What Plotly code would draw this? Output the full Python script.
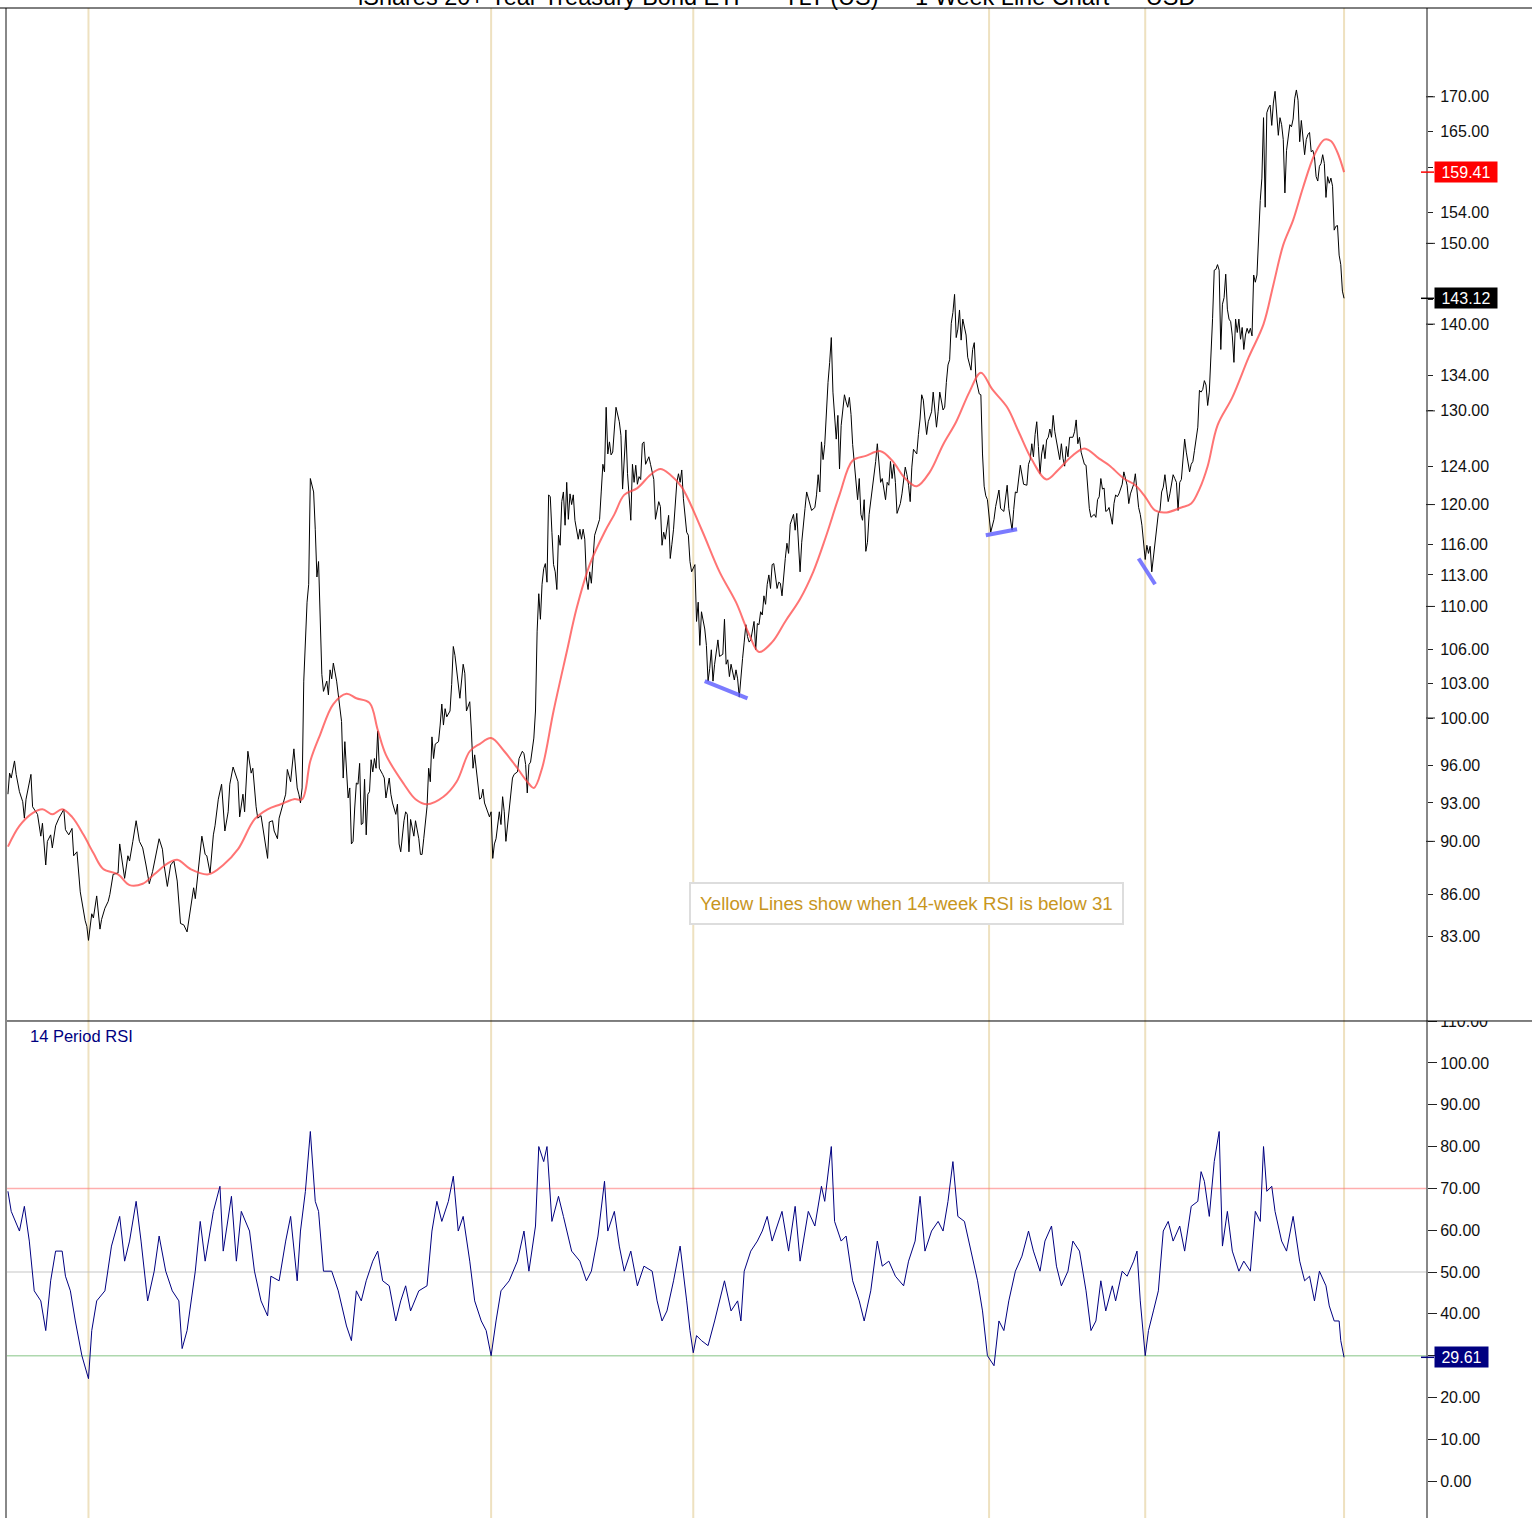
import math
import pandas as pd
import plotly.graph_objects as go

# weekly closes (week number counted from START)
START = pd.Timestamp('2005-07-22')

price_weeks = [
    0, 1, 2, 4, 5, 7, 9, 10, 11, 14, 15, 18, 20, 21, 23, 24, 26, 27, 29, 31,
    34, 35, 37, 39, 40, 42, 44, 46, 47, 48, 49, 51, 52, 54, 56, 57, 59, 61, 62, 64,
    67, 68, 71, 73, 74, 76, 78, 80, 82, 84, 86, 88, 90, 92, 94, 95, 97, 99, 101, 103,
    105, 107, 109, 111, 113, 114, 116, 118, 120, 121, 123, 125, 126, 128, 130, 132, 134, 135, 137, 140,
    141, 143, 144, 146, 148, 149, 151, 152, 154, 156, 158, 159, 161, 162, 164, 165, 167, 169, 170, 172,
    174, 175, 176, 177, 178, 179, 180, 182, 183, 184, 186, 187, 188, 189, 190, 191, 192, 194, 195, 196,
    197, 198, 200, 201, 203, 204, 205, 207, 208, 209, 210, 211, 212, 213, 214, 215, 216, 217, 218, 219,
    220, 221, 222, 223, 224, 225, 226, 228, 229, 230, 232, 233, 234, 236, 237, 238, 239, 241, 242, 243,
    244, 245, 247, 248, 250, 251, 252, 253, 255, 256, 257, 258, 259, 260, 262, 263, 264, 265, 266, 267,
    269, 270, 271, 272, 274, 275, 277, 278, 279, 281, 282, 283, 284, 285, 287, 288, 289, 290, 292, 293,
    294, 295, 296, 297, 299, 300, 301, 302, 303, 305, 307, 308, 310, 311, 313, 314, 315, 316, 317, 318,
    320, 321, 322, 323, 324, 325, 326, 327, 328, 329, 330, 331, 332, 333, 334, 335, 336, 337, 338, 339,
    340, 341, 342, 343, 344, 345, 346, 347, 348, 349, 350, 351, 352, 353, 354, 355, 357, 358, 360, 361,
    362, 363, 364, 365, 366, 367, 368, 369, 370, 372, 373, 374, 375, 376, 377, 379, 380, 381, 382, 383,
    384, 385, 386, 387, 388, 390, 391, 393, 394, 396, 397, 398, 399, 400, 402, 403, 404, 405, 407, 408,
    409, 410, 411, 413, 414, 415, 416, 418, 419, 420, 421, 422, 424, 425, 426, 427, 428, 429, 430, 432,
    433, 435, 436, 437, 438, 439, 440, 442, 443, 444, 445, 446, 447, 448, 449, 450, 451, 452, 454, 455,
    456, 457, 458, 459, 460, 461, 462, 463, 464, 465, 466, 468, 469, 470, 471, 473, 474, 475, 476, 478,
    479, 480, 482, 483, 484, 485, 486, 488, 489, 491, 492, 493, 494, 495, 496, 497, 498, 499, 500, 501,
    502, 503, 504, 505, 506, 507, 509, 510, 511, 512, 513, 514, 515, 516, 517, 518, 519, 520, 521, 522,
    523, 524, 526, 527, 528, 529, 530, 531, 532, 534, 535, 536, 537, 538, 539, 540, 541, 543, 544, 546,
    547, 548, 549, 550, 551, 553, 554, 555, 556, 557, 558, 559, 560, 561, 562, 563, 564, 565, 566, 567,
    569, 570, 571, 572, 573, 574, 575, 576, 577, 578, 579, 580, 581, 582, 583, 584, 585, 586, 587, 588,
    589, 591, 592, 593, 594, 595, 596, 597, 598, 600, 601, 603, 604, 606, 607, 608, 609, 611, 612, 613,
    614, 616, 618, 620, 621, 622, 623, 624, 625, 626, 627, 628, 629, 630, 631, 632, 633, 634, 635, 636,
    637, 638, 639, 640, 641, 642, 643, 644, 645, 646, 648, 649, 650, 651, 652, 653, 655, 656, 658, 659,
    661, 662, 663, 664, 665, 666, 667, 668, 669, 670, 672, 673, 674, 675, 676, 678, 679, 681, 682, 683,
    684, 685, 686, 687, 688, 689, 690, 692, 693, 694, 695, 696, 697, 698, 700, 701, 702, 703, 704, 705,
    706, 707, 708, 709, 710, 711, 712, 713, 714, 715, 716, 717, 718, 719, 720, 721, 722, 723, 724, 725,
    726, 727, 728, 729, 730, 731, 732, 733, 734, 735, 736, 737, 738, 739, 740, 741, 742, 743, 744, 745,
    746, 747, 748, 749, 750, 751, 752, 753, 754, 755, 756, 757, 758, 759, 760, 761, 762, 763, 764, 765,
    766, 767, 768, 769, 770, 771, 772, 773, 774, 775, 776, 777, 778, 779, 780, 781, 782, 783, 784, 785,
    786, 787, 788, 789, 790, 791, 792, 793, 794, 795, 796, 797, 798, 799, 800, 801, 802, 803, 804, 805,
    806, 807, 808, 809, 810, 811, 812, 813,
]
price_close = [
    93.7, 95.4, 95.0, 96.4, 95.3, 93.9, 93.1, 91.8, 93.3, 95.3, 92.7, 92.1, 90.4, 91.4, 88.2, 90.0, 90.5, 89.5, 91.2, 91.8,
    92.5, 90.9, 90.5, 91.0, 88.9, 89.2, 86.2, 84.6, 84.1, 83.7, 82.7, 84.6, 84.3, 85.9, 83.5, 84.2, 85.0, 85.5, 86.0, 87.5,
    87.6, 89.8, 87.2, 88.9, 88.5, 90.0, 91.6, 90.0, 89.5, 88.2, 86.8, 87.7, 88.9, 90.2, 89.4, 88.2, 86.6, 88.2, 88.5, 87.0,
    83.9, 83.8, 83.3, 84.9, 86.5, 85.7, 87.9, 90.4, 89.0, 88.9, 87.6, 90.5, 91.2, 93.3, 94.5, 90.8, 92.3, 94.5, 95.9, 94.7,
    91.9, 93.7, 92.3, 97.2, 95.4, 95.8, 92.7, 91.8, 92.0, 90.2, 88.7, 91.5, 91.6, 90.8, 90.2, 91.8, 92.7, 93.7, 95.7, 94.7,
    97.4, 95.8, 94.2, 93.7, 93.0, 94.2, 103.2, 110.4, 112.1, 122.7, 121.3, 117.5, 112.8, 114.3, 108.6, 103.8, 102.3, 103.2, 102.0, 104.2,
    103.4, 104.8, 103.2, 102.0, 99.7, 95.0, 98.0, 93.4, 94.2, 89.8, 90.0, 92.6, 94.6, 94.5, 96.2, 91.3, 91.4, 94.9, 90.5, 93.7,
    93.9, 96.5, 95.5, 96.6, 95.8, 98.9, 95.8, 95.3, 95.0, 93.4, 95.0, 93.7, 93.0, 92.1, 92.9, 89.8, 89.2, 91.6, 92.3, 92.1,
    89.2, 91.7, 90.4, 91.6, 90.2, 89.0, 89.0, 90.2, 92.7, 95.8, 94.7, 98.4, 96.6, 97.8, 98.0, 99.4, 101.2, 99.4, 100.8, 100.1,
    100.6, 102.9, 106.3, 105.5, 102.9, 101.7, 104.7, 103.9, 100.6, 101.4, 98.9, 95.8, 96.9, 95.5, 93.3, 93.4, 94.1, 93.0, 92.3, 91.9,
    92.3, 88.7, 89.8, 90.2, 92.3, 91.3, 93.5, 92.3, 90.0, 92.7, 95.0, 95.3, 95.5, 96.6, 97.2, 97.0, 96.1, 93.8, 96.1, 96.3,
    98.3, 100.6, 107.7, 111.2, 108.8, 112.1, 113.6, 114.1, 112.3, 121.0, 120.8, 117.2, 114.0, 113.3, 111.6, 116.9, 115.9, 120.3, 121.3, 117.9,
    122.3, 118.5, 121.1, 120.0, 121.0, 118.4, 117.2, 116.5, 117.5, 116.5, 117.5, 116.5, 112.6, 111.6, 113.3, 112.2, 116.9, 117.4, 118.5, 121.3,
    124.2, 123.4, 130.4, 125.3, 126.6, 125.2, 125.5, 128.0, 130.4, 128.8, 127.3, 121.6, 124.8, 127.9, 123.2, 118.4, 124.2, 122.3, 124.1, 122.1,
    122.9, 122.6, 126.4, 126.6, 124.2, 125.0, 124.2, 122.6, 118.5, 120.3, 119.8, 115.9, 117.2, 116.5, 118.9, 114.6, 116.0, 117.5, 122.3, 123.2,
    122.3, 123.6, 120.6, 117.2, 116.9, 114.3, 113.3, 114.0, 108.6, 110.4, 106.4, 109.5, 107.9, 106.4, 103.2, 104.3, 106.0, 103.2, 104.7, 106.9,
    105.4, 105.6, 108.8, 104.7, 105.1, 103.6, 104.7, 103.3, 104.2, 103.4, 101.8, 103.8, 105.2, 106.7, 108.3, 107.2, 106.7, 106.9, 108.6, 106.0,
    108.4, 108.3, 109.5, 109.2, 111.0, 110.2, 112.1, 113.0, 111.7, 114.0, 114.1, 111.7, 112.3, 112.2, 111.0, 114.6, 116.1, 115.1, 118.0, 119.0,
    117.4, 119.1, 113.3, 116.2, 118.2, 119.6, 121.3, 120.1, 119.4, 119.7, 121.0, 123.1, 121.3, 126.6, 124.7, 126.3, 130.1, 133.2, 135.5, 138.4,
    132.1, 129.5, 126.9, 129.5, 123.7, 128.4, 131.8, 131.0, 130.4, 131.5, 129.6, 126.3, 124.1, 122.6, 120.5, 122.7, 119.0, 118.4, 120.5, 115.3,
    116.2, 119.0, 121.6, 123.4, 124.5, 126.4, 123.8, 122.3, 122.7, 120.5, 122.3, 122.0, 124.5, 122.7, 124.2, 122.3, 119.1, 120.1, 121.1, 123.9,
    123.1, 122.0, 120.3, 123.9, 125.8, 125.3, 127.4, 129.1, 131.8, 131.2, 129.1, 127.4, 128.8, 129.5, 129.9, 132.1, 130.4, 128.2, 129.9, 132.1,
    130.1, 130.4, 133.2, 135.2, 135.8, 140.1, 141.4, 143.6, 138.4, 139.4, 141.7, 138.1, 140.6, 139.4, 138.7, 136.1, 135.2, 134.6, 137.0, 137.8,
    133.6, 131.9, 131.8, 125.3, 121.9, 120.9, 120.5, 118.9, 117.2, 118.5, 119.8, 121.5, 119.6, 119.3, 121.0, 122.0, 119.6, 117.4, 119.5, 121.3,
    121.2, 124.1, 122.1, 122.0, 124.2, 124.7, 126.4, 125.0, 127.4, 128.8, 126.1, 123.2, 125.3, 126.3, 124.8, 126.8, 127.1, 128.0, 127.1, 129.5,
    127.7, 126.8, 125.7, 124.7, 126.4, 124.8, 124.0, 126.1, 125.0, 127.1, 127.1, 127.7, 129.0, 126.4, 127.1, 125.5, 124.2, 124.1, 119.6, 118.7,
    119.0, 118.7, 120.5, 120.8, 122.7, 121.6, 121.7, 119.3, 119.4, 119.7, 118.0, 120.1, 121.0, 120.8, 121.1, 122.1, 123.4, 122.0, 120.1, 121.1,
    121.6, 122.1, 123.2, 121.3, 119.7, 119.0, 117.9, 114.5, 115.9, 115.1, 115.8, 113.3, 114.7, 116.0, 119.1, 119.4, 121.3, 121.8, 123.1, 121.6,
    120.3, 121.1, 122.0, 123.1, 122.7, 122.3, 119.4, 122.3, 122.6, 124.7, 126.9, 125.5, 124.5, 123.4, 124.2, 124.5, 125.7, 126.8, 128.2, 132.3,
    132.1, 132.4, 133.4, 132.9, 130.6, 132.1, 135.8, 140.7, 146.6, 146.7, 147.3, 146.6, 137.0, 142.4, 143.2, 146.1, 141.8, 140.6, 140.3, 138.6,
    135.5, 140.6, 139.0, 140.6, 138.2, 139.6, 137.0, 138.7, 139.5, 138.9, 139.5, 138.6, 146.0, 145.1, 146.0, 151.6, 155.6, 158.6, 167.0, 154.7,
    167.7, 168.4, 168.8, 165.9, 169.1, 170.8, 168.1, 164.5, 167.0, 166.0, 163.9, 156.6, 162.4, 164.6, 166.0, 165.7, 166.8, 169.8, 171.0, 169.5,
    163.6, 166.6, 164.6, 161.8, 163.9, 164.6, 164.9, 162.2, 162.4, 161.5, 158.8, 158.2, 160.2, 160.6, 161.8, 160.6, 156.0, 158.8, 157.9, 158.6,
    157.5, 151.7, 152.2, 152.3, 148.5, 147.3, 144.0, 143.12,
]

# 40-week moving average (red)
ma_weeks = [
    0, 7, 15, 21, 27, 33, 39, 46, 52, 58, 67, 74, 82, 89, 97, 103, 111, 122, 131, 140,
    150, 158, 166, 174, 179, 184, 190, 198, 206, 212, 220, 225, 230, 241, 248, 255, 265, 273, 281, 287,
    294, 302, 310, 316, 320, 325, 332, 340, 346, 354, 363, 369, 375, 383, 391, 397, 403, 410, 422, 433,
    443, 451, 457, 465, 473, 482, 490, 498, 506, 514, 522, 531, 538, 546, 553, 561, 569, 577, 585, 592,
    599, 608, 615, 623, 632, 639, 647, 655, 664, 670, 679, 686, 692, 698, 705, 714, 720, 725, 730, 736,
    745, 755, 764, 770, 776, 782, 788, 795, 801, 805, 809, 813,
]
ma_values = [
    89.6, 91.2, 92.2, 92.5, 92.1, 92.5, 91.9, 90.5, 89.1, 87.9, 87.5, 86.7, 86.8, 87.5, 88.3, 88.6, 87.9, 87.5, 88.2, 89.4,
    91.7, 92.5, 92.9, 93.3, 93.3, 96.4, 98.6, 101.2, 102.1, 101.7, 101.3, 99.0, 96.9, 94.5, 93.3, 92.9, 93.5, 94.7, 97.2, 97.8,
    98.3, 97.2, 95.8, 94.7, 94.2, 95.8, 100.6, 105.8, 109.8, 114.0, 117.2, 119.0, 121.0, 121.7, 123.1, 123.7, 123.1, 121.8, 117.5, 113.3,
    110.4, 107.4, 105.8, 106.7, 108.6, 110.7, 113.3, 116.9, 121.0, 124.6, 125.1, 125.6, 124.6, 122.7, 121.9, 123.4, 126.3, 128.8, 132.1, 134.3,
    132.4, 130.4, 127.7, 124.7, 122.6, 123.6, 125.0, 125.9, 124.8, 124.1, 122.7, 122.0, 120.8, 119.4, 119.2, 119.7, 120.1, 121.6, 124.0, 128.4,
    131.5, 136.1, 140.0, 144.8, 149.8, 153.0, 157.3, 161.8, 163.9, 163.7, 162.1, 159.41,
]

# 14-period RSI (navy)
rsi_weeks = [
    0, 2, 7, 10, 13, 16, 20, 23, 26, 29, 33, 35, 38, 41, 45, 49, 51, 54, 59, 63,
    68, 71, 74, 78, 81, 85, 89, 92, 96, 100, 104, 106, 109, 114, 117, 120, 125, 129, 131, 136,
    139, 142, 147, 150, 154, 158, 160, 165, 169, 172, 176, 178, 181, 184, 187, 189, 192, 197, 201, 206,
    209, 212, 215, 218, 222, 225, 228, 232, 236, 239, 242, 245, 250, 255, 258, 261, 264, 268, 271, 274,
    277, 281, 284, 288, 291, 294, 297, 300, 305, 310, 314, 317, 321, 323, 326, 328, 331, 335, 338, 343,
    348, 352, 355, 359, 363, 365, 369, 372, 375, 379, 383, 387, 392, 395, 398, 401, 405, 409, 413, 415,
    417, 419, 422, 426, 430, 433, 436, 440, 444, 446, 448, 452, 456, 459, 462, 465, 468, 471, 475, 479,
    482, 487, 491, 495, 497, 501, 503, 507, 510, 514, 518, 521, 525, 529, 532, 536, 540, 545, 548, 552,
    555, 558, 562, 566, 569, 572, 575, 578, 582, 586, 590, 593, 596, 600, 603, 606, 609, 613, 617, 621,
    624, 628, 631, 635, 638, 641, 645, 648, 652, 656, 659, 662, 665, 668, 672, 674, 678, 681, 685, 687,
    689, 692, 694, 697, 700, 703, 706, 709, 713, 716, 720, 724, 726, 728, 731, 734, 737, 739, 742, 745,
    749, 752, 756, 759, 762, 764, 766, 769, 771, 775, 778, 782, 784, 786, 789, 792, 795, 798, 802, 804,
    807, 810, 811, 813,
]
rsi_values = [
    69.3, 64.5, 59.8, 65.7, 57.4, 45.5, 43.1, 36.0, 47.9, 55.0, 55.0, 49.0, 45.5, 38.3, 30.0, 24.5, 36.0, 43.1, 45.5, 56.2,
    63.3, 52.6, 57.4, 66.9, 57.4, 43.1, 50.2, 58.6, 50.2, 45.5, 43.1, 31.7, 36.0, 50.2, 62.1, 52.6, 64.5, 70.5, 55.0, 68.1,
    52.6, 64.5, 59.8, 50.2, 43.1, 39.5, 49.0, 47.9, 57.4, 63.3, 47.9, 59.8, 69.3, 83.6, 66.9, 64.5, 50.2, 50.2, 45.5, 37.1,
    33.6, 45.5, 43.1, 47.9, 52.6, 55.0, 47.9, 46.7, 38.3, 43.1, 46.7, 40.7, 45.5, 46.7, 59.8, 66.9, 62.1, 66.9, 72.9, 59.8,
    63.3, 52.6, 43.1, 38.3, 36.0, 30.0, 38.3, 45.5, 47.9, 52.6, 59.8, 50.2, 61.0, 80.0, 76.4, 80.0, 62.1, 68.1, 63.3, 55.0,
    52.6, 47.9, 50.2, 58.6, 71.7, 59.8, 64.5, 56.2, 50.2, 55.0, 46.7, 51.4, 50.2, 43.1, 38.3, 40.7, 47.9, 56.2, 43.1, 36.0,
    30.7, 34.8, 33.6, 32.4, 38.3, 43.1, 47.9, 40.7, 43.1, 38.3, 50.2, 55.0, 57.4, 59.8, 63.3, 57.4, 61.0, 64.5, 55.0, 65.7,
    52.6, 64.5, 61.0, 70.5, 66.9, 80.0, 62.1, 57.4, 58.6, 47.9, 43.1, 38.3, 45.5, 57.4, 51.4, 52.6, 49.0, 46.7, 52.6, 57.4,
    68.1, 55.0, 59.8, 62.1, 59.8, 66.9, 76.4, 63.3, 62.1, 55.0, 47.9, 40.7, 30.0, 27.6, 38.3, 36.0, 43.1, 50.2, 53.8, 59.8,
    55.0, 50.2, 57.4, 61.0, 51.4, 46.7, 50.2, 57.4, 55.0, 45.5, 36.0, 38.3, 47.9, 40.7, 46.7, 43.1, 50.2, 49.0, 52.6, 55.0,
    43.1, 30.0, 36.0, 40.7, 45.5, 59.8, 62.1, 57.4, 61.0, 55.0, 65.7, 66.9, 74.0, 71.7, 63.3, 76.4, 83.6, 56.2, 64.5, 55.0,
    50.2, 52.6, 50.2, 64.5, 62.1, 80.0, 69.3, 70.5, 64.5, 57.4, 55.0, 63.3, 57.4, 52.6, 47.9, 49.0, 43.1, 50.2, 46.7, 41.9,
    38.3, 38.3, 33.6, 29.61,
]

# weeks where the 14-week RSI dipped below 31 (yellow lines)
signal_weeks = [49, 294, 417, 597, 692, 813]

# hand-drawn support lines: (week, price) start and end
trend_lines = [
    ((424, 103.2), (450, 101.7)),
    ((595, 116.9), (614, 117.5)),
    ((688, 114.6), (698, 112.1)),
]

price_ticks = [83, 86, 90, 93, 96, 100, 103, 106, 110, 113, 116, 120, 124, 130, 134,
               140, 143, 150, 154, 160, 165, 170]
price_hidden_labels = [160]  # tick drawn, label sits under the MA badge
price_long_ticks = [90, 100, 110, 120, 130, 140, 150, 170]
rsi_ticks = [0, 10, 20, 30, 40, 50, 60, 70, 80, 90, 100, 110]
rsi_levels = [(70, 'rgba(255,120,120,0.6)'), (50, 'rgba(190,190,190,0.6)'),
              (30, 'rgba(120,190,120,0.6)')]


def to_dates(weeks):
    return [START + pd.Timedelta(weeks=w) for w in weeks]


FONT = 'Arial, "Liberation Sans", sans-serif'
W, H = 1532, 1518
L, R, T = 7, 106, 5
PW, PH = W - L - R, H - T
SPLIT = (H - 1020) / PH  # panel boundary in paper units

fig = go.Figure()

fig.add_trace(go.Scatter(x=to_dates(price_weeks), y=price_close, mode='lines',
                         line=dict(color='black', width=1), yaxis='y'))
fig.add_trace(go.Scatter(x=to_dates(ma_weeks), y=ma_values, mode='lines',
                         line=dict(color='rgba(255,70,70,0.75)', width=2, shape='spline'),
                         yaxis='y'))
for (w0, p0), (w1, p1) in trend_lines:
    fig.add_trace(go.Scatter(x=to_dates([w0, w1]), y=[p0, p1], mode='lines',
                             line=dict(color='rgba(90,90,255,0.8)', width=4), yaxis='y'))
fig.add_trace(go.Scatter(x=to_dates(rsi_weeks), y=rsi_values, mode='lines',
                         line=dict(color='#000080', width=1), yaxis='y2'))

shapes = []
for w in signal_weeks:
    d = START + pd.Timedelta(weeks=w)
    shapes.append(dict(type='line', xref='x', yref='paper', x0=d, x1=d, y0=0, y1=1,
                       line=dict(color='rgba(226,205,150,0.6)', width=2), layer='below'))
for lvl, col in rsi_levels:
    shapes.append(dict(type='line', xref='paper', yref='y2', x0=0, x1=1, y0=lvl, y1=lvl,
                       line=dict(color=col, width=1.5), layer='below'))
for v in price_long_ticks:
    shapes.append(dict(type='line', xref='paper', yref='y', x0=1, x1=1 + 9 / PW, y0=v, y1=v,
                       line=dict(color='#222', width=1)))
# hide upper half of the clipped 110 label, then draw frame lines
shapes.append(dict(type='rect', xref='paper', yref='paper', x0=1 + 2 / PW, x1=(W - L) / PW,
                   y0=SPLIT, y1=SPLIT + 16 / PH, fillcolor='white', line=dict(width=0),
                   layer='above'))
shapes.append(dict(type='line', xref='paper', yref='paper', x0=0, x1=(W - L) / PW,
                   y0=SPLIT, y1=SPLIT, line=dict(color='black', width=1), layer='above'))
shapes.append(dict(type='line', xref='paper', yref='paper', x0=-L / PW, x1=(W - L) / PW,
                   y0=1, y1=1, line=dict(color='black', width=1), layer='above'))

# last-value badges on the right axis (log axis annotations need log10 positions)
badges = [
    (ma_values[-1], 'y', math.log10(ma_values[-1]), '#ff0000', 60),
    (price_close[-1], 'y', math.log10(price_close[-1]), '#000000', 60),
    (rsi_values[-1], 'y2', rsi_values[-1], '#000080', 51),
]
annotations = [
    dict(text='iShares 20+ Year Treasury Bond ETF \u2014 TLT (US) \u2014 1 Week Line Chart \u2014 USD',
         xref='paper', yref='paper', x=(776 - L) / PW, y=1 + 11 / PH, xanchor='center',
         yanchor='middle', showarrow=False, font=dict(family=FONT, size=23.5, color='black')),
    dict(text='14 Period RSI', xref='paper', yref='paper', x=(28 - L) / PW,
         y=(H - 1035) / PH, xanchor='left', yanchor='middle', showarrow=False,
         font=dict(family=FONT, size=16.5, color='#000080')),
    dict(text='Yellow Lines show when 14-week RSI is below 31', xref='paper', yref='paper',
         x=(906 - L) / PW, y=(H - 902) / PH, xanchor='center', yanchor='middle',
         showarrow=False, font=dict(family=FONT, size=18.7, color='#c8961e'),
         bgcolor='white', bordercolor='#dddddd', borderwidth=2, borderpad=9),
]
for val, yref, ypos, col, wdt in badges:
    annotations.append(dict(text=f'{val:.2f}', xref='paper', yref=yref, x=1 + 8 / PW, y=ypos,
                            xanchor='left', yanchor='middle', showarrow=False,
                            font=dict(family=FONT, size=16, color='white'), bgcolor=col,
                            width=wdt, height=18, borderpad=1))
    shapes.append(dict(type='line', xref='paper', yref=yref, x0=1 - 5 / PW, x1=1 + 8 / PW,
                       y0=val, y1=val, line=dict(color=col, width=1.5)))

x_range = [START - pd.Timedelta(days=4), START + pd.Timedelta(days=6040)]
price_labels = ['' if v in price_hidden_labels else f'{v:.2f}' for v in price_ticks]

fig.update_layout(
    width=W, height=H,
    margin=dict(l=L, r=R, t=T, b=0),
    paper_bgcolor='white', plot_bgcolor='white',
    showlegend=False,
    font=dict(family=FONT, size=16, color='#111'),
    xaxis=dict(range=x_range, visible=False, anchor='y2', domain=[0, 1]),
    yaxis=dict(type='log', domain=[SPLIT, 1], range=[1.88760, 2.26340], side='right',
               anchor='x', tickvals=price_ticks, ticktext=price_labels, ticks='outside',
               ticklen=5, tickcolor='#222', ticklabelstandoff=4, showgrid=False,
               zeroline=False, showline=True, linecolor='#888888', linewidth=2, mirror=True),
    yaxis2=dict(domain=[0, SPLIT], range=[-8.81, 110.02], side='right', anchor='x',
                tickvals=rsi_ticks, tickformat='.2f', ticks='outside', ticklen=9,
                tickcolor='#222', ticklabelstandoff=0, showgrid=False, zeroline=False,
                showline=True, linecolor='#888888', linewidth=2, mirror=True),
    shapes=shapes,
    annotations=annotations,
)

# the page body's default margin would push the chart 8px in; pin it to the corner
fig.write_html('out.html', config={'displayModeBar': False},
               post_script="document.body.style.margin='0';document.body.style.overflow='hidden';")
